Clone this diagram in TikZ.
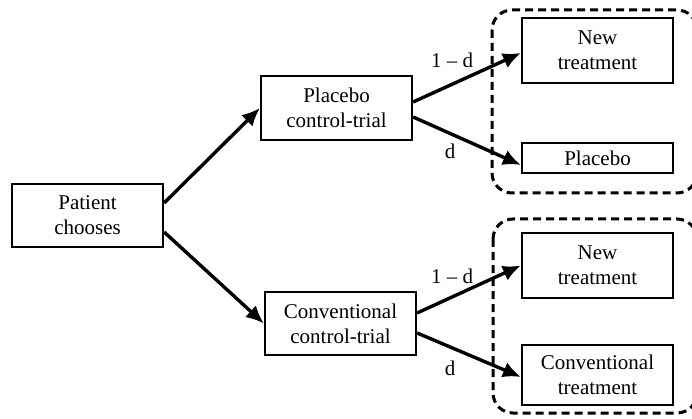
\documentclass[tikz,border=0pt]{standalone}
\usepackage{fontspec}
\setmainfont{Liberation Serif}
\usetikzlibrary{arrows.meta}

\begin{document}
\begin{tikzpicture}[x=1pt, y=-1pt,
    box/.style={draw, line width=2.2pt, align=center, inner sep=0pt, minimum width=151pt, font=\fontsize{21}{25}\selectfont},
    arr/.style={line width=3.4pt, -{Latex[length=18pt,width=16pt]}},
    lbl/.style={inner sep=0pt, font=\fontsize{21}{25}\selectfont},
    group/.style={draw, line width=3pt, dash pattern=on 8pt off 5pt, rounded corners=20pt}]
  \clip (0,0) rectangle (692,419);

  \node[box, minimum height=63pt] (patient) at (87.5,215.5) {Patient\\chooses};
  \node[box, minimum height=64pt] (placebotrial) at (336.5,108) {Placebo\\control-trial};
  \node[box, minimum height=63pt] (convtrial) at (340.5,323.5) {Conventional\\control-trial};

  \node[box, minimum height=65pt] (newA) at (597.5,50.5) {New\\treatment};
  \node[box, minimum height=30pt] (placebo) at (597.5,158) {Placebo};
  \node[box, minimum height=65pt] (newB) at (597.5,265.5) {New\\treatment};
  \node[box, minimum height=60pt] (convB) at (597.5,375) {Conventional\\treatment};

  % dashed groups
  \draw[group] (492,10) rectangle (697,193);
  \draw[group] (493,219) rectangle (697,413);

  \draw[arr] ([yshift=12.5pt]patient.east) -- (placebotrial.west);
  \draw[arr] ([yshift=-16.5pt]patient.east) -- (convtrial.west);

  \draw[arr] ([yshift=6pt]placebotrial.east) -- ([yshift=-2.5pt]newA.west);
  \draw[arr] ([yshift=-9pt]placebotrial.east) -- ([yshift=-7pt]placebo.west);
  \draw[arr] ([yshift=10.5pt]convtrial.east) -- (newB.west);
  \draw[arr] ([yshift=-9.5pt]convtrial.east) -- ([yshift=-2pt]convB.west);

  \node[lbl] (pA) at (452,60) {1 – d};
  \node[lbl] (pB) at (450,151) {d};
  \node[lbl] (pC) at (452,276) {1 – d};
  \node[lbl] (pD) at (450,368) {d};
\end{tikzpicture}
\end{document}
